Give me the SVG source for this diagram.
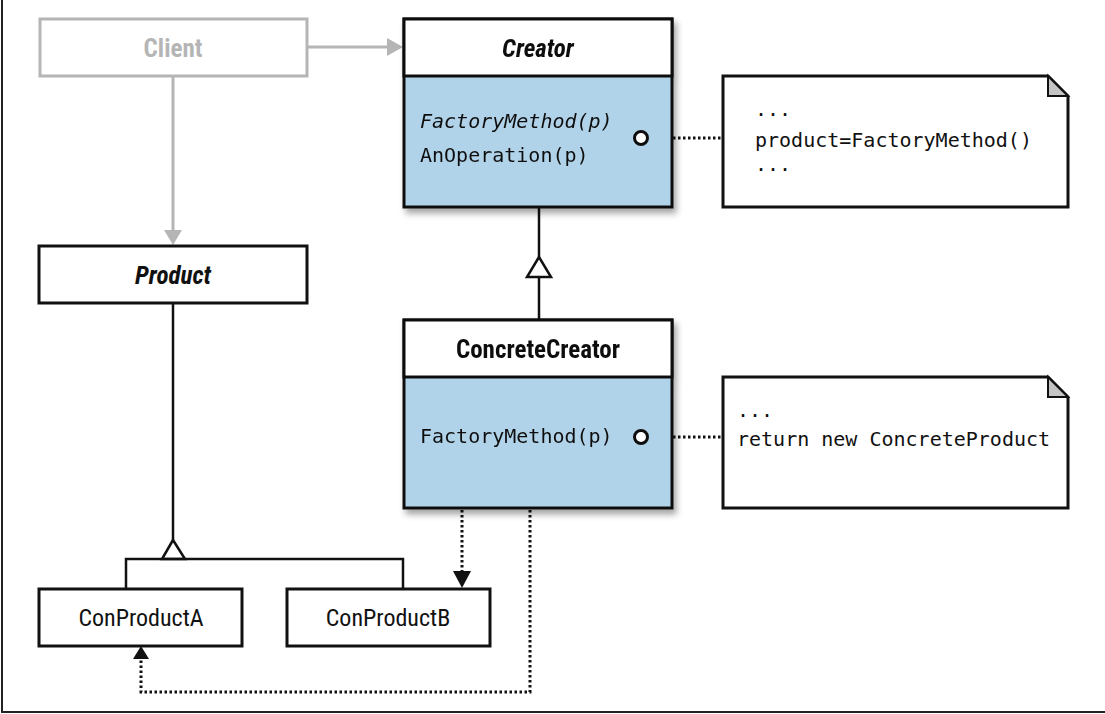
<svg xmlns="http://www.w3.org/2000/svg" width="1105" height="714" viewBox="0 0 1105 714">
<style>
.box{fill:#fff;stroke:#111;stroke-width:3}
.blue{fill:#b1d3e9;stroke:#111;stroke-width:3}
.gbox{fill:#fff;stroke:#b5b5b5;stroke-width:3}
.title{font-family:"Liberation Sans Narrow","Roboto Condensed","Liberation Sans",sans-serif;font-size:25px;text-anchor:middle;fill:#111}
.reg{font-size:24px}
.bold{font-weight:bold}
.ital{font-style:italic}
.mono{font-family:"DejaVu Sans Mono","Liberation Mono",monospace;font-size:20px;fill:#111}
.line{fill:none;stroke:#111;stroke-width:2.5}
.dot{fill:none;stroke:#111;stroke-width:3;stroke-dasharray:2.5 2.5}
.gline{fill:none;stroke:#b5b5b5;stroke-width:3}
.pin{fill:#fff;stroke:#111;stroke-width:3}
</style>
<defs>
<filter id="sh" x="-10%" y="-10%" width="130%" height="130%">
<feDropShadow dx="3" dy="5" stdDeviation="3" flood-color="#000" flood-opacity="0.35"/>
</filter>
</defs>
<rect width="1105" height="714" fill="#fff"/>
<path d="M2,0 V712 H1105" fill="none" stroke="#222" stroke-width="2"/>

<g id="connectors">
<line class="gline" x1="307" y1="47" x2="388" y2="47"/>
<polygon points="403,47 387,38 387,56" fill="#b5b5b5"/>
<line class="gline" x1="173" y1="76" x2="173" y2="232"/>
<polygon points="173,245 164,230 182,230" fill="#b5b5b5"/>
<line class="line" x1="539" y1="207" x2="539" y2="257"/>
<polygon points="539,257 527,277 551,277" fill="#fff" stroke="#111" stroke-width="2.5"/>
<line class="line" x1="539" y1="277" x2="539" y2="319"/>
<line class="line" x1="173" y1="303" x2="173" y2="540"/>
<polygon points="173,540 162,559 185,559" fill="#fff" stroke="#111" stroke-width="2.5"/>
<path class="line" d="M126,589 V559 H403 V589"/>
<line class="dot" x1="648" y1="138" x2="722" y2="138"/>
<line class="dot" x1="648" y1="437" x2="722" y2="437"/>
<line class="dot" x1="462" y1="510" x2="462" y2="572"/>
<polygon points="462,588 453,571 471,571" fill="#111"/>
<path class="dot" d="M530,510 V692 H141 V659"/>
<polygon points="141,646 133,659 149,659" fill="#111"/>
</g>

<g id="client">
<rect class="gbox" x="40" y="19" width="267" height="57"/>
<text class="title bold" x="173" y="57" style="fill:#b5b5b5">Client</text>
</g>

<g id="creator" filter="url(#sh)">
<rect class="blue" x="404" y="19" width="268" height="188"/>
<rect class="box" x="404" y="19" width="268" height="57"/>
<text class="title bold ital" x="538" y="57">Creator</text>
<text class="mono ital" x="420" y="128">FactoryMethod(p)</text>
<text class="mono" x="420" y="162">AnOperation(p)</text>
<circle class="pin" cx="641" cy="138" r="6.5"/>
</g>

<g id="note1">
<path d="M723,76 H1048 L1068,96 V207 H723 Z" fill="#fff" stroke="#111" stroke-width="3"/>
<path d="M1048,76 V96 H1068 Z" fill="#c4c4c4" stroke="#111" stroke-width="2"/>
<text class="mono" x="755" y="116">...</text>
<text class="mono" x="755" y="147">product=FactoryMethod()</text>
<text class="mono" x="755" y="171">...</text>
</g>

<g id="product">
<rect class="box" x="39" y="246" width="268" height="57"/>
<text class="title bold ital" x="173" y="284">Product</text>
</g>

<g id="concretecreator" filter="url(#sh)">
<rect class="blue" x="404" y="320" width="268" height="188"/>
<rect class="box" x="404" y="320" width="268" height="57"/>
<text class="title bold" x="538" y="358">ConcreteCreator</text>
<text class="mono" x="420" y="443">FactoryMethod(p)</text>
<circle class="pin" cx="641" cy="437" r="6.5"/>
</g>

<g id="note2">
<path d="M723,377 H1048 L1068,397 V508 H723 Z" fill="#fff" stroke="#111" stroke-width="3"/>
<path d="M1048,377 V397 H1068 Z" fill="#c4c4c4" stroke="#111" stroke-width="2"/>
<text class="mono" x="737" y="417">...</text>
<text class="mono" x="737" y="446">return new ConcreteProduct</text>
</g>

<g id="conproducta">
<rect class="box" x="39" y="589" width="203" height="57"/>
<text class="title reg" x="141" y="626">ConProductA</text>
</g>

<g id="conproductb">
<rect class="box" x="287" y="589" width="203" height="57"/>
<text class="title reg" x="388" y="626">ConProductB</text>
</g>
</svg>
